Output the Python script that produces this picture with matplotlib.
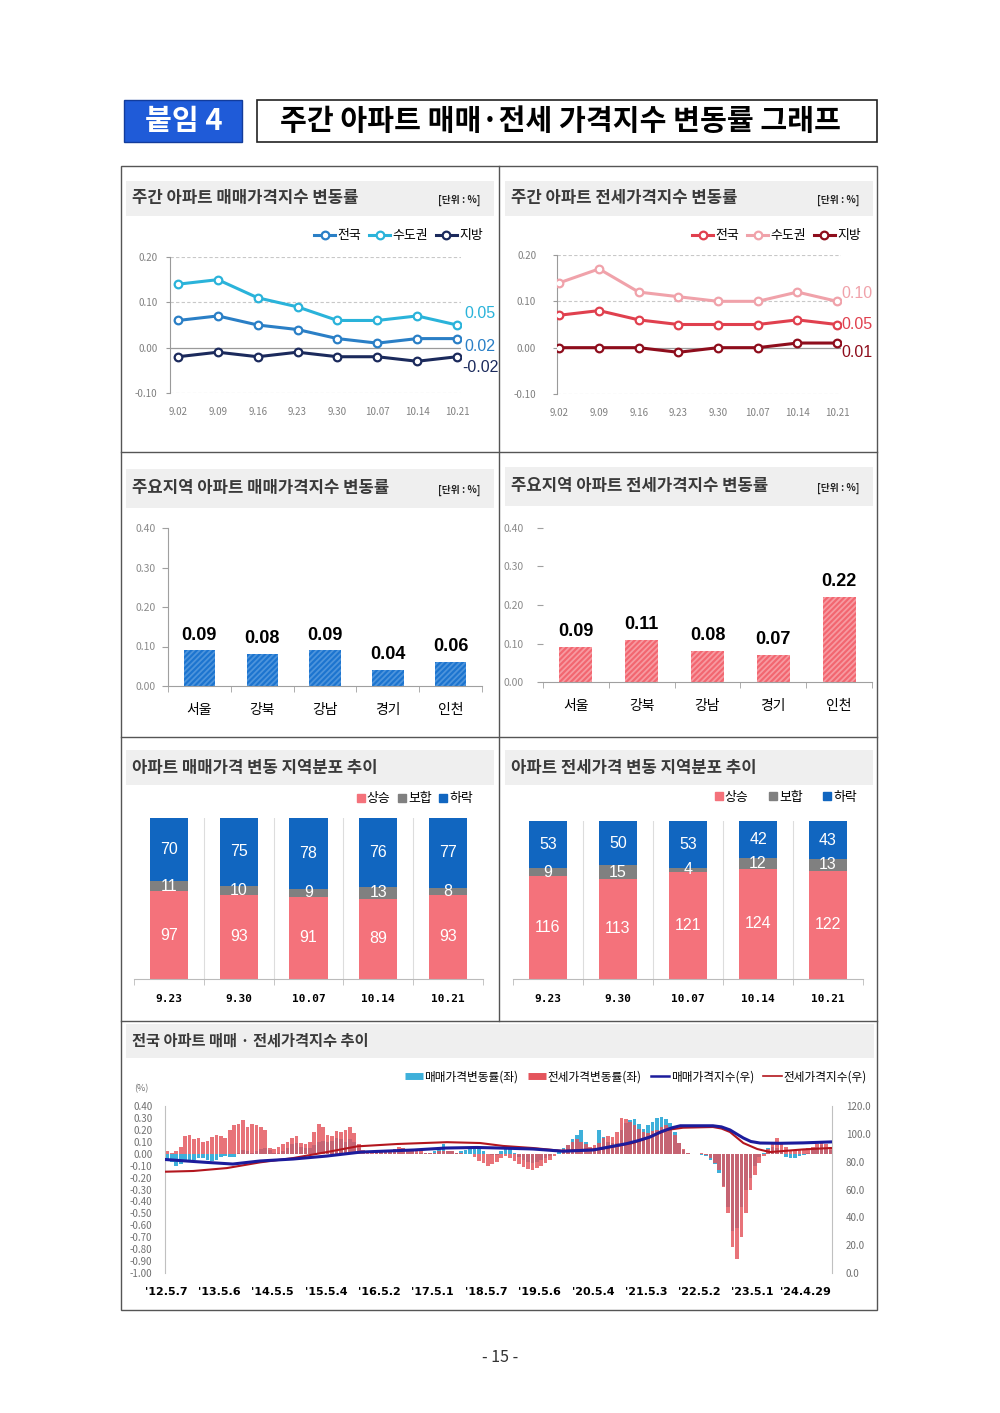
import numpy as np
import matplotlib
matplotlib.use('Agg')
import matplotlib.pyplot as plt
from matplotlib.patches import Rectangle, Patch
from matplotlib.lines import Line2D

plt.rcParams['font.family'] = ['Noto Sans CJK KR', 'DejaVu Sans']
plt.rcParams['axes.unicode_minus'] = False
plt.rcParams['hatch.linewidth'] = 1.3

W, H = 1000, 1413
NUM = ['Liberation Sans', 'DejaVu Sans']

# ---- 주간 변동률 (상단 꺾은선) ----
weeks = ['9.02', '9.09', '9.16', '9.23', '9.30', '10.07', '10.14', '10.21']
sale_all = [0.06, 0.07, 0.05, 0.04, 0.02, 0.01, 0.02, 0.02]
sale_cap = [0.14, 0.15, 0.11, 0.09, 0.06, 0.06, 0.07, 0.05]
sale_loc = [-0.02, -0.01, -0.02, -0.01, -0.02, -0.02, -0.03, -0.02]
jeon_all = [0.07, 0.08, 0.06, 0.05, 0.05, 0.05, 0.06, 0.05]
jeon_cap = [0.14, 0.17, 0.12, 0.11, 0.10, 0.10, 0.12, 0.10]
jeon_loc = [0.00, 0.00, 0.00, -0.01, 0.00, 0.00, 0.01, 0.01]
line_names = ['전국', '수도권', '지방']

# ---- 주요지역 ----
regions = ['서울', '강북', '강남', '경기', '인천']
sale_reg = [0.09, 0.08, 0.09, 0.04, 0.06]
jeon_reg = [0.09, 0.11, 0.08, 0.07, 0.22]

# ---- 지역분포 ----
dist_weeks = ['9.23', '9.30', '10.07', '10.14', '10.21']
dist_names = ['상승', '보합', '하락']
sale_up = [97, 93, 91, 89, 93]
sale_flat = [11, 10, 9, 13, 8]
sale_down = [70, 75, 78, 76, 77]
jeon_up = [116, 113, 121, 124, 122]
jeon_flat = [9, 15, 4, 12, 13]
jeon_down = [53, 50, 53, 42, 43]

# ---- 장기 추이: 월평균 주간변동률 (2012.5 ~ 2024.10) ----
sale_chg = [
    -0.05, -0.07, -0.10, -0.09, -0.07, -0.06, -0.05, -0.04,
    -0.04, -0.05, -0.06, -0.05, -0.03, -0.02, -0.03, -0.03, 0.01, 0.03, 0.02, 0.01,
    0.02, 0.04, 0.05, 0.03, 0.01, 0.01, 0.02, 0.05, 0.08, 0.09, 0.06, 0.05,
    0.05, 0.07, 0.10, 0.11, 0.10, 0.11, 0.13, 0.12, 0.10, 0.12, 0.10, 0.05,
    0.02, 0.00, 0.00, 0.01, 0.02, 0.03, 0.03, 0.04, 0.04, 0.05, 0.04, 0.02,
    0.01, 0.01, 0.01, 0.01, 0.02, 0.04, 0.08, 0.02, 0.02, 0.01, 0.02, 0.03,
    0.04, 0.05, 0.04, 0.02, 0.00, -0.01, -0.01, 0.02, 0.06, 0.05, 0.01, -0.03,
    -0.05, -0.07, -0.08, -0.07, -0.05, -0.04, -0.02, 0.00, 0.02, 0.05, 0.07, 0.12,
    0.16, 0.20, 0.10, 0.04, 0.03, 0.20, 0.14, 0.10, 0.09, 0.09, 0.20, 0.26,
    0.28, 0.29, 0.25, 0.21, 0.24, 0.27, 0.30, 0.31, 0.29, 0.26, 0.18, 0.09,
    0.03, 0.01, 0.00, 0.00, -0.01, -0.02, -0.05, -0.09, -0.16, -0.27, -0.45, -0.65,
    -0.62, -0.45, -0.30, -0.20, -0.10, -0.03, 0.01, 0.05, 0.06, 0.05, 0.02, -0.03,
    -0.04, -0.04, -0.02, -0.01, 0.01, 0.03, 0.06, 0.07, 0.05, 0.03,
]
jeon_chg = [
    0.02, 0.01, 0.02, 0.06, 0.15, 0.16, 0.12, 0.13,
    0.10, 0.11, 0.14, 0.16, 0.15, 0.13, 0.20, 0.24, 0.25, 0.28, 0.22, 0.25,
    0.24, 0.22, 0.20, 0.05, 0.04, 0.06, 0.08, 0.10, 0.13, 0.15, 0.09, 0.08,
    0.10, 0.18, 0.25, 0.22, 0.16, 0.15, 0.19, 0.18, 0.20, 0.22, 0.17, 0.08,
    0.03, 0.02, 0.02, 0.02, 0.02, 0.02, 0.03, 0.04, 0.06, 0.05, 0.03, 0.02,
    0.02, 0.02, 0.01, 0.01, 0.01, 0.02, 0.02, 0.02, 0.02, 0.01, 0.01, 0.00,
    0.00, -0.03, -0.06, -0.08, -0.10, -0.09, -0.07, -0.04, -0.02, -0.04, -0.06, -0.09,
    -0.11, -0.13, -0.14, -0.12, -0.10, -0.08, -0.05, -0.02, 0.00, 0.04, 0.07, 0.10,
    0.12, 0.10, 0.08, 0.06, 0.07, 0.09, 0.13, 0.15, 0.14, 0.18, 0.30, 0.29,
    0.27, 0.24, 0.21, 0.18, 0.17, 0.19, 0.20, 0.22, 0.24, 0.22, 0.16, 0.09,
    0.04, 0.01, 0.00, 0.00, 0.01, -0.01, -0.04, -0.08, -0.14, -0.28, -0.50, -0.78,
    -0.88, -0.70, -0.50, -0.30, -0.18, -0.08, -0.02, 0.04, 0.10, 0.13, 0.10, 0.06,
    0.03, 0.02, 0.03, 0.04, 0.05, 0.06, 0.08, 0.09, 0.08, 0.06,
]
# 가격지수 (우축), 날짜는 연도 소수
sale_idx_t = [2012.35, 2013.10, 2013.60, 2014.11, 2014.73, 2015.35, 2016.00, 2016.99,
              2017.59, 2018.17, 2018.60, 2019.22, 2019.78, 2020.35, 2020.98, 2021.20,
              2021.41, 2021.62, 2021.84, 2021.98, 2022.59, 2022.75, 2022.91, 2023.03,
              2023.16, 2023.30, 2023.47, 2023.85, 2024.28, 2024.80]
sale_idx = [81.5, 79.5, 78.3, 80.5, 81.9, 84.0, 86.9, 88.4,
            89.8, 90.2, 89.8, 89.1, 87.5, 88.4, 93.0, 95.2,
            97.7, 101.5, 104.5, 105.8, 105.8, 105.0, 102.8, 100.0,
            97.0, 94.5, 93.4, 93.2, 93.5, 94.2]
jeon_idx_t = [2012.35, 2012.86, 2013.49, 2014.11, 2014.73, 2015.36, 2015.93, 2016.68,
              2017.61, 2018.23, 2018.66, 2019.22, 2019.78, 2020.48, 2021.09, 2021.40,
              2021.73, 2022.03, 2022.59, 2022.75, 2022.91, 2023.03, 2023.16, 2023.42,
              2023.66, 2024.28, 2024.80]
jeon_idx = [72.8, 73.3, 75.4, 79.5, 82.6, 86.9, 91.0, 92.7,
            94.0, 93.4, 91.3, 89.8, 87.7, 89.1, 93.4, 97.5,
            102.8, 104.4, 104.9, 103.8, 101.3, 97.5, 93.4, 89.1,
            86.9, 88.8, 89.8]
long_ticks = ["'12.5.7", "'13.5.6", "'14.5.5", "'15.5.4", "'16.5.2", "'17.5.1", "'18.5.7",
              "'19.5.6", "'20.5.4", "'21.5.3", "'22.5.2", "'23.5.1", "'24.4.29"]


def to_year(lbl):
    y, m, d = lbl.strip("'").split('.')
    return 2000 + int(y) + (int(m) - 1) / 12 + (int(d) - 1) / 365


def ax_px(x0, y0, x1, y1, **kw):
    return fig.add_axes([x0 / W, 1 - y1 / H, (x1 - x0) / W, (y1 - y0) / H], **kw)


def fig_pt(x, y):
    return (x / W, 1 - y / H)


fig = plt.figure(figsize=(10, 14.13), dpi=100)
bg = ax_px(0, 0, W, H, zorder=-5)
bg.set_xlim(0, W)
bg.set_ylim(H, 0)
bg.axis('off')

# 머리글
bg.add_patch(Rectangle((124, 100), 118, 42, fc='#1f5bd8', ec='#123c9c', lw=1))
bg.text(184, 121, '붙임 4', color='white', fontsize=21, fontweight='bold', ha='center', va='center')
bg.add_patch(Rectangle((257, 100), 620, 42, fc='white', ec='#222222', lw=1.2))
bg.text(561, 121, '주간 아파트 매매·전세 가격지수 변동률 그래프', fontsize=21,
        fontweight='bold', ha='center', va='center')

# 틀
bg.add_patch(Rectangle((121, 166), 756, 1144, fill=False, ec='#555555', lw=1))
bg.plot([499, 499], [166, 1021], color='#555555', lw=1)
for yy in (452, 737, 1021):
    bg.plot([121, 877], [yy, yy], color='#555555', lw=1)


def band(x0, y0, x1, y1, title, unit=None, fs=12):
    bg.add_patch(Rectangle((x0, y0), x1 - x0, y1 - y0, fc='#efefef', ec='none'))
    bg.text(x0 + 6, (y0 + y1) / 2, title, fontsize=fs, va='center', ha='left',
            color='#3a3a3a', fontweight='bold')
    if unit:
        bg.text(x1 - 14, (y0 + y1) / 2 + 2, unit, fontsize=7, va='center', ha='right',
                fontweight='bold', color='#222222')


band(126, 181, 494, 216, '주간 아파트 매매가격지수 변동률', '[단위 : %]')
band(505, 181, 873, 216, '주간 아파트 전세가격지수 변동률', '[단위 : %]')
band(126, 469, 494, 508, '주요지역 아파트 매매가격지수 변동률', '[단위 : %]')
band(505, 467, 873, 506, '주요지역 아파트 전세가격지수 변동률', '[단위 : %]')
band(126, 750, 494, 785, '아파트 매매가격 변동 지역분포 추이')
band(505, 750, 873, 785, '아파트 전세가격 변동 지역분포 추이')
band(126, 1024, 874, 1058, '전국 아파트 매매 · 전세가격지수 추이', fs=11)


def line_panel(px, xlim, series, colors, offs, legend_xy):
    ax = ax_px(*px)
    x = np.arange(len(weeks))
    for s, c, n in zip(series, colors, line_names):
        ax.plot(x, s, color=c, lw=2.2, marker='o', ms=5.5, mfc='white', mec=c, mew=1.6,
                label=n, zorder=3)
    ax.set_xlim(*xlim)
    ax.set_ylim(-0.1, 0.2)
    for v in (-0.1, 0.1, 0.2):
        ax.axhline(v, color='#c8c8c8', lw=0.8, ls=(0, (3, 2)), zorder=1)
    ax.axhline(0, color='#9a9a9a', lw=0.9, zorder=1)
    for sp in ('top', 'right', 'bottom'):
        ax.spines[sp].set_visible(False)
    ax.spines['left'].set_color('#9a9a9a')
    ax.set_yticks([-0.1, 0, 0.1, 0.2])
    ax.set_yticklabels(['-0.10', '0.00', '0.10', '0.20'])
    ax.set_xticks(x)
    ax.set_xticklabels(weeks)
    ax.tick_params(axis='y', length=3, color='#9a9a9a', labelcolor='#808080', labelsize=7, pad=6)
    ax.tick_params(axis='x', length=0, labelcolor='#808080', labelsize=7, pad=10)
    ax.patch.set_alpha(0)
    for s, c, o in zip(series, colors, offs):
        ax.annotate(f'{s[-1]:.2f}', (x[-1], s[-1]), xytext=o, textcoords='offset points',
                    color=c, fontsize=11.5, family=NUM, va='center', ha='left')
    ax.legend(loc='center right', bbox_to_anchor=fig_pt(*legend_xy), bbox_transform=fig.transFigure,
              ncol=3, frameon=False, fontsize=9.3, handlelength=1.6, handletextpad=0.2,
              columnspacing=0.6, borderaxespad=0)
    return ax


line_panel((170, 257, 461, 393), (-0.2, 7.1), [sale_all, sale_cap, sale_loc],
           ['#2a7fc6', '#2ab3da', '#1b2a5c'], [(5, -6), (5, 8), (4, -8)], (488, 236))
ax2 = line_panel((557, 255, 841, 394), (-0.06, 7.1), [jeon_all, jeon_cap, jeon_loc],
                 ['#e0404e', '#f0a2aa', '#8e0d1c'], [(3, 0), (3, 6), (3, -7)], (866, 236))
ax2.tick_params(axis='y', pad=12)


def bar_panel(px, vals, fc, hc, spine_left=True):
    ax = ax_px(*px)
    x = np.arange(len(regions))
    ax.bar(x, vals, width=0.5, color=fc, edgecolor=hc, lw=0, hatch='//////', zorder=2)
    ax.set_xlim(-0.5, 4.5)
    ax.set_ylim(0, 0.4)
    for i, v in enumerate(vals):
        ax.annotate(f'{v:.2f}', (i, v), xytext=(0, 5), textcoords='offset points',
                    ha='center', va='bottom', fontsize=13, fontweight='bold', family=NUM)
    for sp in ('top', 'right'):
        ax.spines[sp].set_visible(False)
    ax.spines['left'].set_visible(spine_left)
    ax.spines['left'].set_color('#a0a0a0')
    ax.spines['bottom'].set_color('#a0a0a0')
    ax.set_yticks([0, 0.1, 0.2, 0.3, 0.4])
    ax.set_yticklabels(['0.00', '0.10', '0.20', '0.30', '0.40'])
    ax.set_xticks(x)
    ax.set_xticklabels(regions, fontweight='medium')
    ax.set_xticks(np.arange(-0.5, 5, 1), minor=True)
    ax.tick_params(axis='y', length=4, color='#a0a0a0', labelcolor='#8a8a8a', labelsize=7.5, pad=5)
    ax.tick_params(axis='x', which='major', length=0, labelsize=10, pad=12)
    ax.tick_params(axis='x', which='minor', length=4, color='#a0a0a0')
    ax.patch.set_alpha(0)
    return ax


bar_panel((168, 528, 482, 686), sale_reg, '#1c74cf', '#4d94dc')
ax4 = bar_panel((543, 528, 872, 682), jeon_reg, '#f26670', '#f79aa1', spine_left=False)
ax4.tick_params(axis='y', pad=10)

DIST_C = ['#f4727b', '#808080', '#1166c0']


def dist_panel(px, up, flat, down, legend_xy, colspace):
    ax = ax_px(*px)
    x = np.arange(len(dist_weeks))
    tot = np.array(up) + np.array(flat) + np.array(down)
    parts = [np.array(up) / tot, np.array(flat) / tot, np.array(down) / tot]
    raw = [up, flat, down]
    bottom = np.zeros(len(x))
    for frac, r, c, n in zip(parts, raw, DIST_C, dist_names):
        ax.bar(x, frac, bottom=bottom, width=0.55, color=c, label=n, zorder=2)
        for i in range(len(x)):
            ax.text(x[i], bottom[i] + frac[i] / 2, str(r[i]), ha='center', va='center',
                    color='white', fontsize=11.5, family=NUM, zorder=3)
        bottom = bottom + frac
    for b in np.arange(0.5, 4, 1):
        ax.axvline(b, color='#dddddd', lw=0.8, zorder=1)
    ax.set_xlim(-0.5, 4.5)
    ax.set_ylim(0, 1)
    for sp in ('top', 'right', 'left'):
        ax.spines[sp].set_visible(False)
    ax.spines['bottom'].set_color('#bbbbbb')
    ax.set_yticks([])
    ax.set_xticks(x)
    ax.set_xticklabels(dist_weeks)
    ax.set_xticks(np.arange(-0.5, 5, 1), minor=True)
    ax.tick_params(axis='x', which='major', length=0, labelsize=8, pad=11)
    ax.tick_params(axis='x', which='minor', length=4, color='#bbbbbb')
    for t in ax.get_xticklabels():
        t.set_fontweight('bold')
        t.set_family('DejaVu Sans Mono')
    ax.patch.set_alpha(0)
    handles = [Patch(color=c) for c in DIST_C]
    ax.legend(handles, dist_names, loc='center right', bbox_to_anchor=fig_pt(*legend_xy),
              bbox_transform=fig.transFigure, ncol=3, frameon=False, fontsize=9.3,
              handlelength=0.6, handleheight=0.6, handletextpad=0.15, columnspacing=colspace,
              borderaxespad=0)


dist_panel((134, 818, 483, 979), sale_up, sale_flat, sale_down, (478, 799), 0.6)
dist_panel((513, 821, 863, 979), jeon_up, jeon_flat, jeon_down, (862, 797), 1.6)

# ---- 장기 추이 ----
axl = ax_px(165, 1106, 832, 1273)
tm = np.array([2012 + (4 + i + 0.5) / 12 for i in range(len(sale_chg))])
axl.bar(tm, sale_chg, width=0.068, color='#3eb0da', lw=0, zorder=1)
axl.bar(tm, jeon_chg, width=0.068, color='#e4545c', alpha=0.82, lw=0, zorder=2)
axl.set_xlim(2012.33, 2024.82)
axl.set_ylim(-1.0, 0.4)
yt = [k / 10 for k in range(-10, 5)]
axl.set_yticks(yt)
axl.set_yticklabels([f'{v:.2f}' for v in yt])
axl.set_xticks([to_year(t) for t in long_ticks])
axl.set_xticklabels(long_ticks)
axl.tick_params(axis='y', length=0, labelsize=7, labelcolor='#707070', pad=9)
axl.tick_params(axis='x', length=0, labelsize=8, pad=10)
for t in axl.get_xticklabels():
    t.set_fontweight('bold')
    t.set_family('DejaVu Sans')
for sp in ('top', 'right', 'bottom'):
    axl.spines[sp].set_visible(False)
axl.spines['left'].set_color('#c0c0c0')

axr = axl.twinx()
axr.plot(sale_idx_t, sale_idx, color='#1c1c9c', lw=2.2, zorder=4)
axr.plot(jeon_idx_t, jeon_idx, color='#b3161e', lw=1.5, zorder=3)
axr.set_ylim(0, 120)
axr.set_yticks(np.arange(0, 121, 20))
axr.set_yticklabels([f'{v:.1f}' for v in np.arange(0, 121, 20)])
axr.tick_params(axis='y', length=0, labelsize=7, labelcolor='#707070', pad=10)
for sp in ('top', 'left', 'bottom'):
    axr.spines[sp].set_visible(False)
axr.spines['right'].set_color('#c0c0c0')
bg.text(134, 1089, '(%)', fontsize=6.5, color='#707070', va='center')

lh = [Line2D([], [], color='#3eb0da', lw=5, solid_capstyle='butt'),
      Line2D([], [], color='#e4545c', lw=5, solid_capstyle='butt'),
      Line2D([], [], color='#1c1c9c', lw=1.8),
      Line2D([], [], color='#b3161e', lw=1.2)]
fig.legend(lh, ['매매가격변동률(좌)', '전세가격변동률(좌)', '매매가격지수(우)', '전세가격지수(우)'],
           loc='center right', bbox_to_anchor=fig_pt(871, 1077), ncol=4, frameon=False,
           handlelength=1.6, handletextpad=0.1, columnspacing=0.8, borderaxespad=0,
           prop={'weight': 'medium', 'size': 8.4})

bg.text(500, 1358, '- 15 -', ha='center', va='center', fontsize=11.5, color='#333333')

fig.savefig('out.png', dpi=100, facecolor='white')
